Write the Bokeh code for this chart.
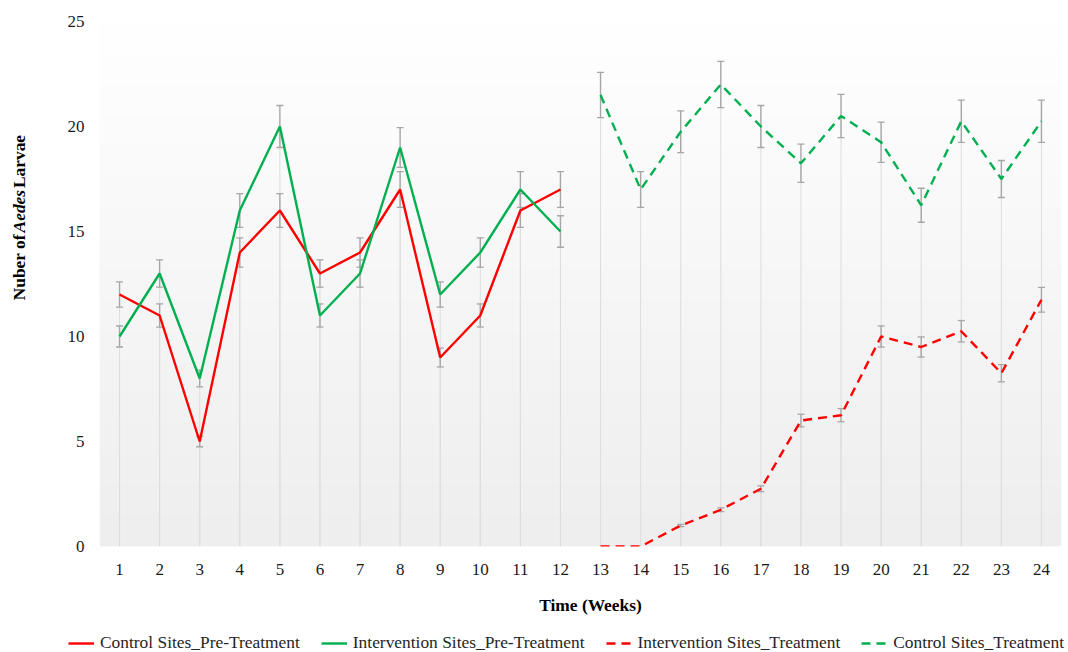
import numpy as np
from bokeh.plotting import figure
from bokeh.layouts import row, column
from bokeh.models import FixedTicker, Legend, LegendItem, Range1d
from bokeh.core.properties import value
from bokeh.embed import file_html
from bokeh.resources import INLINE

# ---------------- data ----------------
weeks_pre = list(range(1, 13))
weeks_trt = list(range(13, 25))
week_ticks = list(range(1, 25))
y_ticks = [0, 5, 10, 15, 20, 25]

control_pre = [12, 11, 5, 14, 16, 13, 14, 17, 9, 11, 16, 17]
control_pre_err = [0.6, 0.55, 0.25, 0.7, 0.8, 0.65, 0.7, 0.85, 0.45, 0.55, 0.8, 0.85]

intervention_pre = [10, 13, 8, 16, 20, 11, 13, 19, 12, 14, 17, 15]
intervention_pre_err = [0.5, 0.65, 0.4, 0.8, 1.0, 0.55, 0.65, 0.95, 0.6, 0.7, 0.85, 0.75]

intervention_trt = [0, 0, 1.0, 1.75, 2.75, 6.0, 6.25, 10.0, 9.5, 10.25, 8.25, 11.75]
intervention_trt_err = [0, 0, 0.05, 0.09, 0.14, 0.3, 0.31, 0.5, 0.48, 0.51, 0.41, 0.59]

control_trt = [21.5, 17.0, 19.75, 22.0, 20.0, 18.25, 20.5, 19.25, 16.25, 20.25, 17.5, 20.25]
control_trt_err = [1.08, 0.85, 0.99, 1.1, 1.0, 0.91, 1.03, 0.96, 0.81, 1.01, 0.88, 1.01]

series_names = ["Control Sites_Pre-Treatment", "Intervention Sites_Pre-Treatment",
                "Intervention Sites_Treatment", "Control Sites_Treatment"]
x_title = "Time (Weeks)"
y_title_parts = [("Nuber of", "bold"), ("Aedes", "bold italic"), ("Larvae", "bold")]

RED = "#ff0000"
GREEN = "#00b050"
DASH = "9 6"
FONT = "Liberation Serif"
W = 1068
MAIN_H = 580
LEG_H = 652 - MAIN_H
YLAB_W = 40


def strip(width, height):
    f = figure(width=width, height=height, output_backend="svg", toolbar_location=None,
               x_range=Range1d(0, width), y_range=Range1d(0, height),
               x_axis_type=None, y_axis_type=None, min_border=0)
    f.outline_line_color = None
    f.grid.visible = False
    return f


# ---------------- y-axis title strip ----------------
ylab = strip(YLAB_W, MAIN_H)
ypos = [272, 347, 396]   # offsets (px from strip bottom) of the three title pieces
for (txt, style), yy in zip(y_title_parts, ypos):
    ylab.text(x=[18], y=[yy], text=[txt], angle=np.pi / 2, text_font=value(FONT),
              text_font_size="17.4px", text_font_style=style, text_color="black",
              text_align="left", text_baseline="middle")

# ---------------- main chart ----------------
p = figure(width=W - YLAB_W, height=MAIN_H, output_backend="svg", toolbar_location=None,
           x_range=Range1d(0.5, 24.5), y_range=Range1d(0, 25),
           min_border_left=59, min_border_right=7, min_border_top=21, min_border_bottom=34)
p.outline_line_color = None
p.grid.visible = False

# gradient background of the plot area
n = 256
g = np.linspace(238, 255, n).astype(np.uint8)
img = np.empty((n, 2), dtype=np.uint32)
view = img.view(dtype=np.uint8).reshape((n, 2, 4))
for c in range(3):
    view[:, :, c] = g[:, None]
view[:, :, 3] = 255
p.image_rgba(image=[img], x=0.5, y=0, dw=24, dh=25, level="image")

all_series = [
    (weeks_pre, control_pre, control_pre_err, RED, "solid"),
    (weeks_pre, intervention_pre, intervention_pre_err, GREEN, "solid"),
    (weeks_trt, intervention_trt, intervention_trt_err, RED, DASH),
    (weeks_trt, control_trt, control_trt_err, GREEN, DASH),
]

# drop lines
for wk, vals, errs, col, dash in all_series:
    p.segment(x0=wk, y0=[0] * len(wk), x1=wk, y1=vals, line_color="#dddddd", line_width=1)

# error bars
for wk, vals, errs, col, dash in all_series:
    xs = [w for w, e in zip(wk, errs) if e > 0]
    lo = [v - e for v, e in zip(vals, errs) if e > 0]
    hi = [v + e for v, e in zip(vals, errs) if e > 0]
    p.segment(x0=xs, y0=lo, x1=xs, y1=hi, line_color="#a6a6a6", line_width=1.4)
    p.scatter(x=xs + xs, y=lo + hi, marker="dash", size=7, line_color="#a6a6a6", line_width=1.3)

for wk, vals, errs, col, dash in all_series:
    p.line(wk, vals, line_color=col, line_width=2.4, line_dash=dash)

# axes
for ax in (p.xaxis, p.yaxis):
    ax.axis_line_color = None
    ax.major_tick_line_color = None
    ax.minor_tick_line_color = None
    ax.major_tick_out = 0
    ax.major_label_text_font = FONT
    ax.major_label_text_font_size = "17px"
    ax.major_label_text_color = "#1a1a1a"
p.xaxis.ticker = FixedTicker(ticks=week_ticks)
p.yaxis.ticker = FixedTicker(ticks=y_ticks)
p.xaxis.major_label_standoff = 17
p.yaxis.major_label_standoff = 15

# ---------------- x title + legend strip ----------------
leg = strip(W, LEG_H)
leg.text(x=[590], y=[48], text=[x_title], text_font=value(FONT), text_font_size="17.4px",
         text_font_style="bold", text_color="black", text_align="center", text_baseline="middle")
items = []
for (wk, vals, errs, col, dash), nm in zip(all_series, series_names):
    # legend-only renderer: no visible data, carries the series style
    r = leg.line(x=np.array([np.nan, np.nan]), y=np.array([np.nan, np.nan]),
                 line_color=col, line_width=2.4, line_dash=dash)
    items.append(LegendItem(label=nm, renderers=[r]))
legend = Legend(items=items, location=(68, -1), orientation="horizontal", padding=0, margin=0,
                spacing=21, glyph_width=26, label_standoff=6,
                border_line_color=None, background_fill_alpha=0,
                label_text_font=FONT, label_text_font_size="17.4px", label_text_color="#262626")
leg.add_layout(legend)

layout = column(row(ylab, p), leg)
open("out.html", "w").write(file_html(layout, INLINE))
